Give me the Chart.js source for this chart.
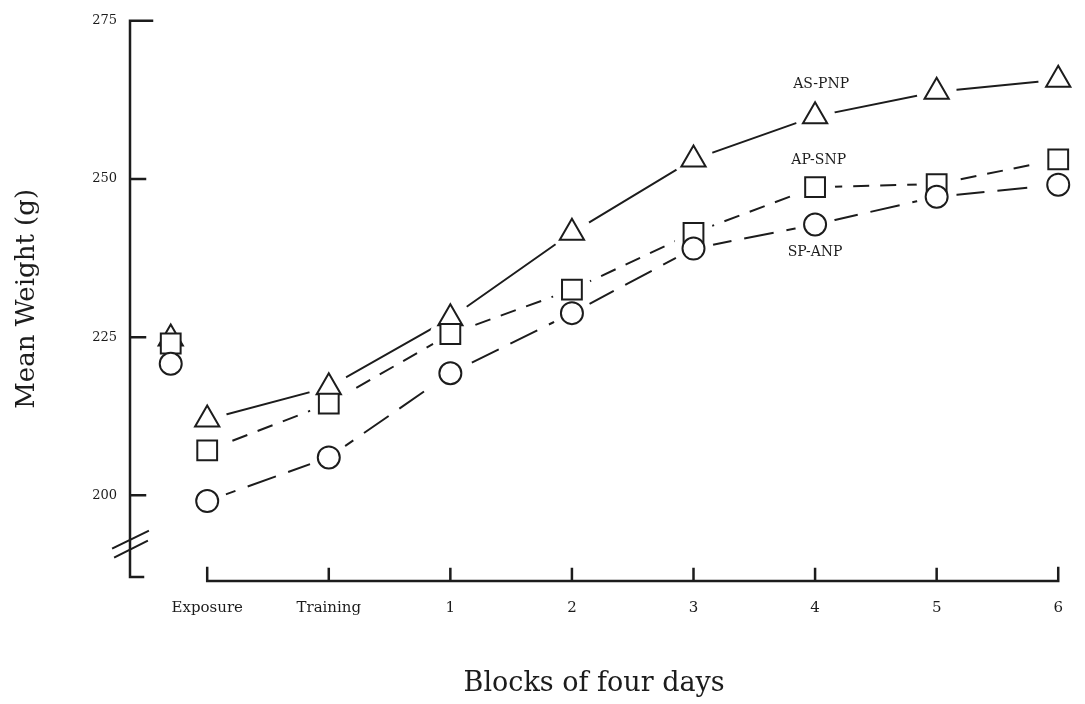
<!DOCTYPE html>
<html>
<head>
<meta charset="utf-8">
<script src="https://cdn.jsdelivr.net/npm/chart.js@4"></script>
<style>
  body { margin: 0; background: #fff; }
  #wrap { width: 1085px; height: 704px; }
</style>
</head>
<body>
<div id="wrap"><canvas id="weightChart"></canvas></div>
<script>
// Mean weight per block
var xPos = [-0.3, 0, 1, 2, 3, 4, 5, 6, 7];   // first point = before exposure (no label)
var tickLabels = ['Exposure', 'Training', '1', '2', '3', '4', '5', '6'];
var yTicks = [200, 225, 250, 275];

var asPnp = [224.8, 212.0, 217.1, 228.0, 241.5, 253.1, 259.9, 263.8, 265.7];
var apSnp = [224.0, 207.1, 214.5, 225.5, 232.5, 241.5, 248.7, 249.2, 253.1];
var spAnp = [220.8, 199.1, 206.0, 219.3, 228.8, 239.0, 242.8, 247.2, 249.1];

var seriesNames = ['AS-PNP', 'AP-SNP', 'SP-ANP'];

var ink = '#1c1c1c';
var serif = "'DejaVu Serif', serif";

function pts(vals) {
  return vals.map(function (v, i) { return { x: xPos[i], y: v }; });
}

// no line from the pre-exposure point to the exposure point
var skipFirst = function (c) { return c.p0DataIndex === 0 ? 'rgba(0,0,0,0)' : ink; };

function series(label, vals, style, radius, dash) {
  return {
    label: label,
    data: pts(vals),
    borderColor: ink,
    borderWidth: 2,
    borderDash: dash,
    pointStyle: style,
    pointRadius: radius,
    pointBorderWidth: 2,
    pointBackgroundColor: '#fff',
    pointBorderColor: ink,
    clip: false,
    segment: { borderColor: skipFirst }
  };
}

// white halo round every marker so the lines stop short of it, then markers again
var haloPlugin = {
  id: 'halo',
  afterDatasetsDraw: function (chart) {
    var ctx = chart.ctx;
    ctx.save();
    ctx.fillStyle = '#fff';
    chart.data.datasets.forEach(function (ds, i) {
      chart.getDatasetMeta(i).data.forEach(function (p) {
        ctx.beginPath();
        ctx.arc(p.x, p.y, 20, 0, Math.PI * 2);
        ctx.fill();
      });
    });
    ctx.restore();
    chart.data.datasets.forEach(function (ds, i) {
      chart.getDatasetMeta(i).data.forEach(function (p) { p.draw(ctx); });
    });
  }
};

// axes drawn like the printed figure: ticks pointing inwards, detached x axis, axis break
var paperAxes = {
  id: 'paperAxes',
  afterDraw: function (chart) {
    var ctx = chart.ctx, a = chart.chartArea, x = chart.scales.x, y = chart.scales.y;
    ctx.save();
    ctx.strokeStyle = ink;
    ctx.lineWidth = 2.5;
    ctx.lineCap = 'square';

    ctx.beginPath();
    ctx.moveTo(a.left + 22, a.top);
    ctx.lineTo(a.left, a.top);
    ctx.lineTo(a.left, a.bottom);
    ctx.lineTo(a.left + 13, a.bottom);
    yTicks.slice(0, -1).forEach(function (v) {
      var py = y.getPixelForValue(v);
      ctx.moveTo(a.left, py);
      ctx.lineTo(a.left + 15, py);
    });
    ctx.stroke();

    // break marks
    var pb = y.getPixelForValue(192.3);
    ctx.lineWidth = 2;
    ctx.beginPath();
    ctx.moveTo(a.left - 17, pb + 4);
    ctx.lineTo(a.left + 18, pb - 13);
    ctx.moveTo(a.left - 15, pb + 13);
    ctx.lineTo(a.left + 17, pb - 3);
    ctx.stroke();

    var yb = a.bottom + 4;
    var x0 = x.getPixelForValue(0), x7 = x.getPixelForValue(7);
    ctx.lineWidth = 2.5;
    ctx.beginPath();
    ctx.moveTo(x0, yb - 13);
    ctx.lineTo(x0, yb);
    ctx.lineTo(x7, yb);
    ctx.lineTo(x7, yb - 13);
    for (var k = 1; k < 7; k++) {
      var px = x.getPixelForValue(k);
      ctx.moveTo(px, yb);
      ctx.lineTo(px, yb - 12);
    }
    ctx.stroke();

    // series names beside the curves
    ctx.fillStyle = ink;
    ctx.font = '14px ' + serif;
    ctx.textAlign = 'center';
    ctx.textBaseline = 'middle';
    var spots = [[5.05, 264.9], [5.03, 253.0], [5.0, 238.4]];
    seriesNames.forEach(function (n, i) {
      ctx.fillText(n, x.getPixelForValue(spots[i][0]), y.getPixelForValue(spots[i][1]));
    });
    ctx.restore();
  }
};

var ctx = document.getElementById('weightChart').getContext('2d');
var chart = new Chart(ctx, {
  type: 'line',
  data: {
    datasets: [
      series(seriesNames[0], asPnp, 'triangle', 14, []),
      series(seriesNames[1], apSnp, 'rect', 14, [16, 11]),
      series(seriesNames[2], spAnp, 'circle', 11, [30, 13])
    ]
  },
  options: {
    responsive: true,
    maintainAspectRatio: false,
    animation: false,
    layout: { padding: { top: 18, right: 17, left: 0, bottom: 0 } },
    plugins: { legend: { display: false }, tooltip: { enabled: false } },
    scales: {
      x: {
        type: 'linear',
        min: -0.635,
        max: 7,
        grid: { display: false, drawTicks: false },
        border: { display: false },
        afterFit: function (s) { s.height = 127; },
        afterBuildTicks: function (s) {
          s.ticks = tickLabels.map(function (t, i) { return { value: i }; });
        },
        ticks: {
          padding: 22,
          color: ink,
          font: { family: serif, size: 15 },
          maxRotation: 0,
          autoSkip: false,
          callback: function (v) { return tickLabels[v]; }
        },
        title: {
          display: true,
          text: 'Blocks of four days',
          color: ink,
          font: { family: serif, size: 27 },
          padding: { top: 0, bottom: 4 }
        }
      },
      y: {
        min: 187.1,
        max: 275,
        grid: { display: false, drawTicks: false },
        border: { display: false },
        afterFit: function (s) { s.width = 130; },
        afterBuildTicks: function (s) {
          s.ticks = yTicks.map(function (v) { return { value: v }; });
        },
        ticks: {
          padding: 13,
          color: ink,
          font: { family: serif, size: 13 }
        },
        title: {
          display: true,
          text: 'Mean Weight (g)',
          color: ink,
          font: { family: serif, size: 26 },
          padding: { top: 12, bottom: 0 }
        }
      }
    }
  },
  plugins: [haloPlugin, paperAxes]
});
</script>
</body>
</html>
